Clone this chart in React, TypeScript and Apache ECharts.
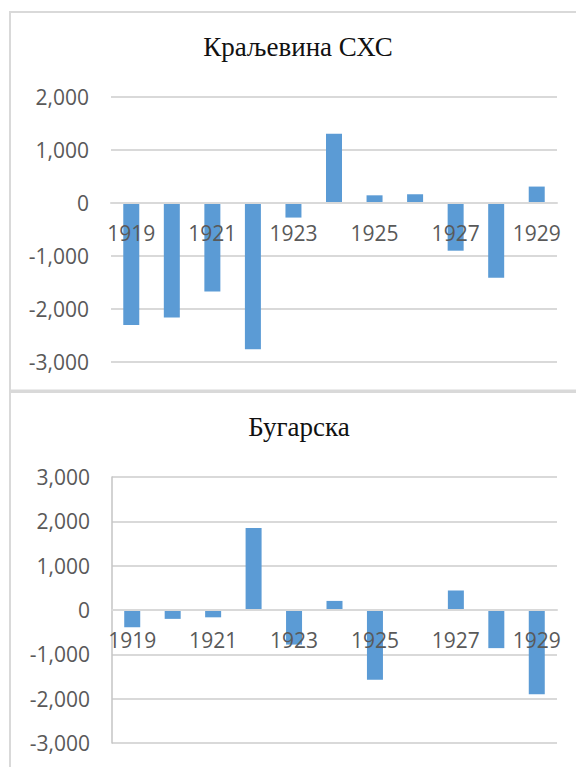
import React, { useEffect, useRef } from "react";
import * as echarts from "echarts";

const years = ["1919", "1920", "1921", "1922", "1923", "1924", "1925", "1926", "1927", "1928", "1929"];
const kingdomSHS = [-2300, -2160, -1670, -2760, -275, 1305, 145, 165, -900, -1410, 310];
const bulgaria = [-390, -200, -165, 1850, -780, 205, -1575, 0, 440, -860, -1900];
const titleTop = "Краљевина СХС";
const titleBottom = "Бугарска";
const topRange = [-3000, 2000];
const bottomRange = [-3000, 3000];

const fmt = (v: number) => v.toLocaleString("en-US");
const labelFont = "Open Sans";
const labelColor = "#595959";
const gridColor = "#d9d9d9";
const barColor = "#5b9bd5";

export default function App() {
  const ref = useRef<HTMLDivElement>(null);
  useEffect(() => {
    if (!ref.current) return;
    const chart = echarts.init(ref.current, undefined, { renderer: "svg" });
    const topH = 265;
    const botH = 266;
    const xAxisBase = (gridIndex: number, range: number[], h: number) => ({
      type: "category" as const,
      gridIndex,
      data: years,
      position: "bottom" as const,
      z: 5,
      offset: -((0 - range[0]) / (range[1] - range[0])) * h,
      axisTick: { show: false },
      axisLine: { show: true, onZero: false, lineStyle: { color: gridColor, width: 2 } },
      axisLabel: { interval: 1, margin: 19, fontFamily: labelFont, fontSize: 21, color: labelColor },
      splitLine: { show: false },
    });
    const yAxisBase = (gridIndex: number, range: number[], showLine: boolean) => ({
      type: "value" as const,
      gridIndex,
      min: range[0],
      max: range[1],
      interval: 1000,
      axisLine: { show: showLine, lineStyle: { color: "#c4c4c4", width: 1.5 } },
      axisTick: { show: false },
      axisLabel: { margin: 22, fontFamily: labelFont, fontSize: 21, color: labelColor, formatter: fmt },
      splitLine: { show: true, lineStyle: { color: gridColor, width: 2 } },
    });
    chart.setOption({
      animation: false,
      backgroundColor: "#ffffff",
      title: [
        {
          text: titleTop,
          left: 293,
          top: 28,
          textAlign: "center",
          textStyle: { fontFamily: "Liberation Serif", fontWeight: "normal", fontSize: 27, color: "#111" },
        },
        {
          text: titleBottom,
          left: 294,
          top: 408,
          textAlign: "center",
          textStyle: { fontFamily: "Liberation Serif", fontWeight: "normal", fontSize: 27, color: "#111" },
        },
      ],
      grid: [
        { left: 111, right: 19, top: 97, height: topH },
        { left: 112, right: 19, top: 477, height: botH },
      ],
      xAxis: [xAxisBase(0, topRange, topH), xAxisBase(1, bottomRange, botH)],
      yAxis: [yAxisBase(0, topRange, false), yAxisBase(1, bottomRange, true)],
      series: [
        { type: "bar", xAxisIndex: 0, yAxisIndex: 0, data: kingdomSHS, barWidth: 16, itemStyle: { color: barColor } },
        { type: "bar", xAxisIndex: 1, yAxisIndex: 1, data: bulgaria, barWidth: 16, itemStyle: { color: barColor } },
      ],
      graphic: [
        { type: "rect", shape: { x: 9, y: 11, width: 600, height: 2 }, style: { fill: gridColor } },
        { type: "rect", shape: { x: 9, y: 11, width: 2, height: 760 }, style: { fill: gridColor } },
        { type: "rect", shape: { x: 9, y: 389.5, width: 600, height: 3.5 }, style: { fill: gridColor } },
      ],
    });
    return () => chart.dispose();
  }, []);
  return <div ref={ref} style={{ position: "fixed", left: 0, top: 0, width: 576, height: 767 }} />;
}
